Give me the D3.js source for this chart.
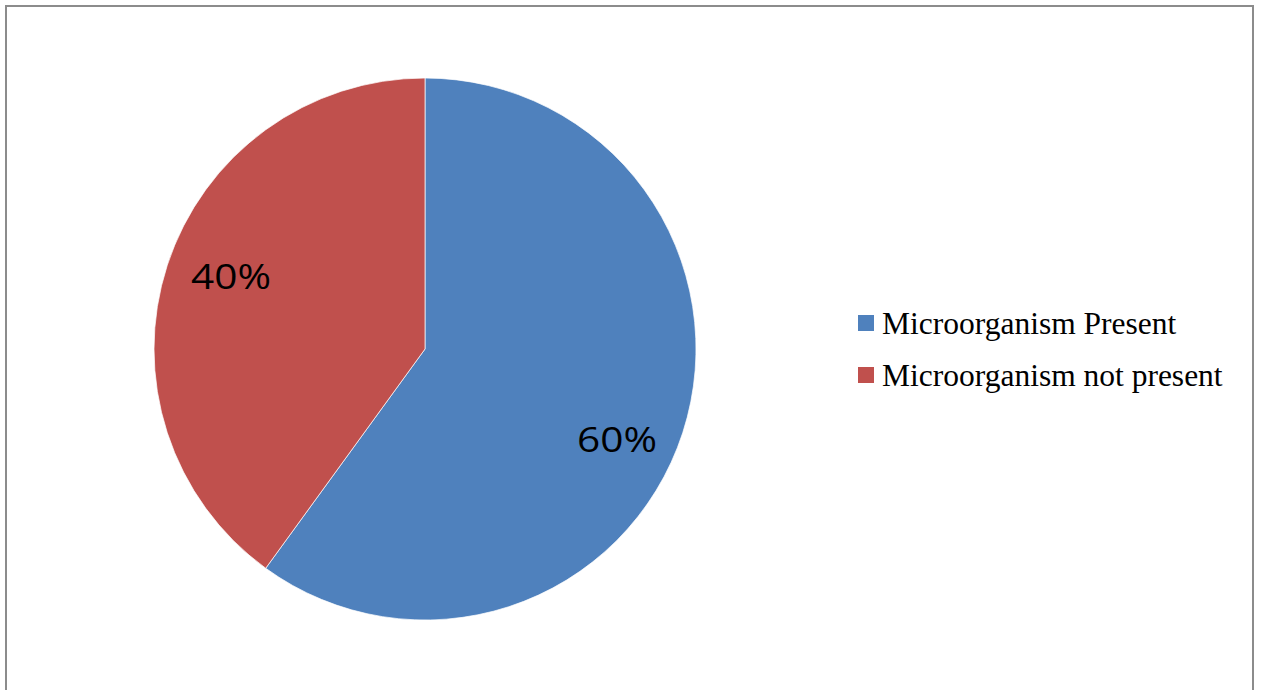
<!DOCTYPE html>
<html>
<head>
<meta charset="utf-8">
<script src="https://cdn.jsdelivr.net/npm/d3@7"></script>
<style>
  html, body { margin: 0; padding: 0; background: #fff; }
  svg { display: block; }
</style>
</head>
<body>
<div id="chart"></div>
<script>
// chart data
const categories = ["Microorganism Present", "Microorganism not present"];
const values = [60, 40];
const labels = ["60%", "40%"];
const colors = ["#4F81BD", "#C0504D"];

const width = 1261, height = 690;
const cx = 425, cy = 349, radius = 271;

// small nudges so the labels sit where the original "best fit" put them
const labelNudge = [[-9, 25], [7, -7]];

const svg = d3.select("#chart").append("svg")
    .attr("width", width)
    .attr("height", height);

// outer frame (no bottom edge visible)
svg.append("path")
    .attr("d", "M6," + height + " V6 H1253 V" + height)
    .attr("fill", "none")
    .attr("stroke", "#8c8c8c")
    .attr("stroke-width", 2);

const data = categories.map((c, i) => ({ name: c, value: values[i], label: labels[i], color: colors[i], i: i }));

const pie = d3.pie()
    .sort(null)
    .value((d) => d.value);

const arc = d3.arc()
    .innerRadius(0)
    .outerRadius(radius);

const labelArc = d3.arc()
    .innerRadius(radius * 0.78)
    .outerRadius(radius * 0.78);

const g = svg.append("g")
    .attr("transform", "translate(" + cx + "," + cy + ")");

const arcs = pie(data);

g.selectAll(".slice")
    .data(arcs)
    .enter().append("path")
    .attr("class", "slice")
    .attr("d", arc)
    .attr("fill", (d) => d.data.color)
    .attr("stroke", "#ffffff")
    .attr("stroke-width", 0.7);

g.selectAll(".lbl")
    .data(arcs)
    .enter().append("text")
    .attr("class", "lbl")
    .attr("transform", (d) => {
        const c = labelArc.centroid(d);
        const n = labelNudge[d.data.i];
        return "translate(" + (c[0] + n[0]) + "," + (c[1] + n[1]) + ")";
    })
    .attr("text-anchor", "middle")
    .attr("dy", "0.35em")
    .attr("textLength", 80)
    .attr("lengthAdjust", "spacingAndGlyphs")
    .style("font-family", "'Open Sans', sans-serif")
    .style("font-size", "35.5px")
    .style("fill", "#000")
    .text((d) => d.data.label);

// legend
const legend = svg.append("g")
    .attr("transform", "translate(858,315)");

const item = legend.selectAll(".item")
    .data(data)
    .enter().append("g")
    .attr("class", "item")
    .attr("transform", (d, i) => "translate(0," + (i * 52) + ")");

item.append("rect")
    .attr("width", 16)
    .attr("height", 16)
    .attr("fill", (d) => d.color);

item.append("text")
    .attr("x", 24)
    .attr("y", 19)
    .style("font-family", "'Liberation Serif', 'Times New Roman', serif")
    .style("font-size", "31.5px")
    .style("fill", "#000")
    .text((d) => d.name);
</script>
</body>
</html>
